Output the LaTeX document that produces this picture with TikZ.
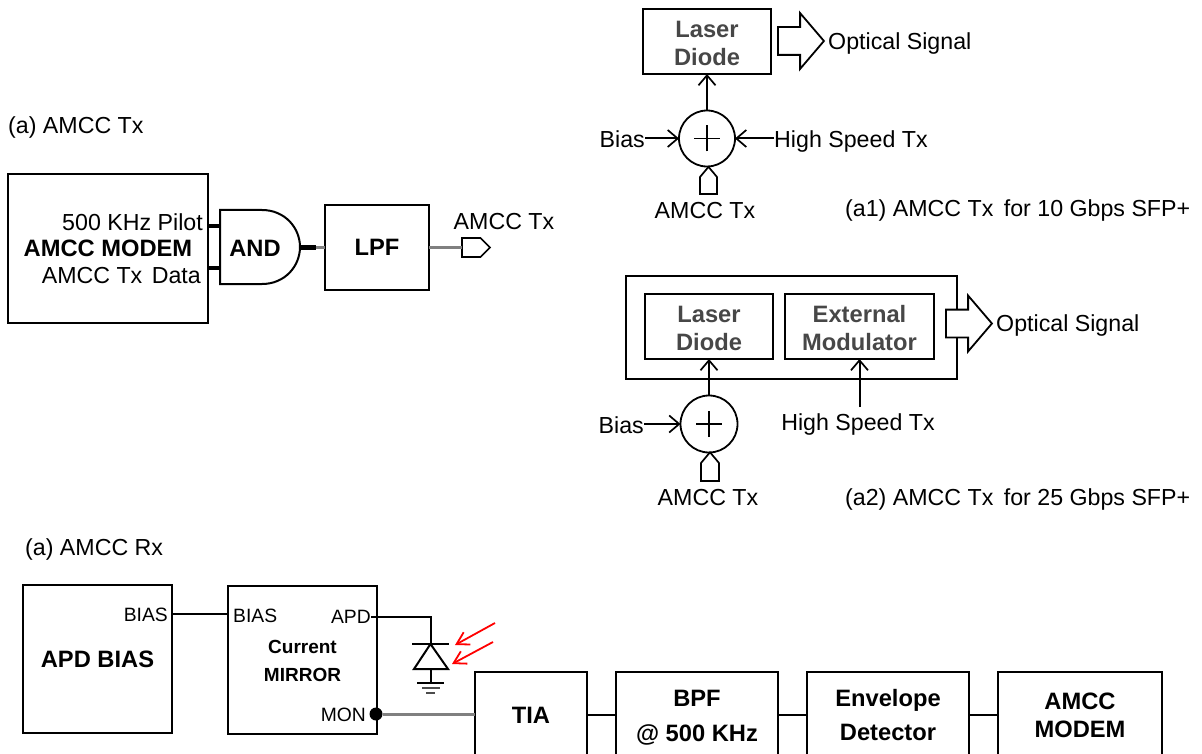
\documentclass[tikz,border=0pt]{standalone}
\usepackage{fontspec}
\setmainfont{Liberation Sans}
\usetikzlibrary{arrows.meta, shapes.arrows, shapes.symbols}
\newcommand{\toplift}[1]{\rule{0pt}{#1}}
\tikzset{
  lbl/.style={inner sep=0pt, font=\fontsize{23.2}{28}\selectfont, text height=16.6pt, text depth=0pt},
  smalllbl/.style={inner sep=0pt, font=\fontsize{19.3}{28}\selectfont, text height=13.8pt, text depth=0pt},
  boldlbl/.style={inner sep=0pt, font=\fontsize{23.7}{28}\selectfont\bfseries, align=center},
  blockbox/.style={draw, line width=2pt, outer sep=0pt, inner sep=0pt, align=center, font=\fontsize{23.7}{28}\selectfont\bfseries},
  laserbox/.style={blockbox, text=black!72},
  sumnode/.style={circle, draw, line width=1.8pt, minimum size=#1, inner sep=0pt, outer sep=0pt,
    path picture={\draw[line width=1.3pt] (path picture bounding box.center) +(-13pt,0) -- +(13pt,0)
      (path picture bounding box.center) +(0,-13pt) -- +(0,13pt);}},
  opticarrow/.style={single arrow, draw, fill=white, line width=1.8pt, inner sep=0pt, outer sep=0pt,
    minimum height=46pt, single arrow head extend=14pt, single arrow tip angle=99},
  sigtag/.style={signal, draw, fill=white, line width=1.7pt, inner sep=0pt, outer sep=0pt, signal to=#1},
  wire/.style={line width=2pt},
  arrowwire/.style={wire, -{Straight Barb[length=10pt, width=17pt, line width=1.7pt]}},
  greywire/.style={line width=3pt, black!50},
  pinwire/.style={line width=4.5pt},
  redarrow/.style={red, line width=1.8pt, -{Straight Barb[length=12pt, width=14pt, line width=1.8pt]}}
}
\begin{document}
\begin{tikzpicture}[x=1pt, y=-1pt]
\useasboundingbox (0,0) rectangle (1202,754);
\clip (0,0) rectangle (1202,754);

\node[lbl, anchor=west] (txtitle) at (8,125) {(a) AMCC Tx};
\node[blockbox, minimum width=200pt, minimum height=148pt] (modem) at (108,248.5) {AMCC MODEM};
\node[lbl, anchor=east] (pilot) at (203,222) {500 KHz Pilot};
\node[lbl, anchor=east] (txdata) at (201,275) {AMCC Tx\hspace{3pt} Data};
\draw[wire] (220,210) -- (262,210) .. controls (285,210) and (300,228) .. (300,247) .. controls (300,266) and (285,284) .. (262,284) -- (220,284) -- cycle;
\node[boldlbl] (andgate) at (255,248) {AND};
\coordinate (andin1) at (220,226);
\coordinate (andin2) at (220,268);
\coordinate (andout) at (300,247.5);
\coordinate (andstub) at (316,247.5);
\node[blockbox, minimum width=104pt, minimum height=85pt] (lpf) at (377,247.5) {LPF};
\node[sigtag=east, minimum width=28pt, minimum height=19pt, anchor=west] (txtag) at (462,247.5) {};
\node[lbl] (txtaglbl) at (504,221) {AMCC Tx};
\draw[pinwire] (modem.east |- andin1) -- (andin1);
\draw[pinwire] (modem.east |- andin2) -- (andin2);
\draw[greywire] (andstub) -- (lpf.west);
\draw[pinwire] (andout) -- (andstub);
\draw[greywire] (lpf.east) -- (txtag.west);

\node[laserbox, minimum width=128pt, minimum height=65pt] (laserA) at (707,41.5) {\toplift{21pt}Laser\\Diode};
\node[opticarrow] (opticA) at (795,41) {\rule{0pt}{26pt}};
\node[lbl, anchor=west] (opticAlbl) at (828,41) {Optical Signal};
\node[sumnode=56pt] (sumA) at (707,138.5) {};
\node[lbl, anchor=east] (biasA) at (645,139) {Bias};
\node[lbl, anchor=west] (highA) at (774,139) {High Speed Tx};
\node[sigtag=north, minimum width=17pt, minimum height=17pt, signal pointer angle=80, anchor=south] (tagA) at (708.5,194) {};
\node[lbl] (tagAlbl) at (705,210) {AMCC Tx};
\node[lbl, anchor=west] (captionA) at (845,208) {(a1) AMCC Tx\hspace{4pt} for 10 Gbps SFP+};
\draw[arrowwire] (sumA.north) -- (laserA.south);
\draw[arrowwire] (biasA.east |- sumA.west) -- (sumA.west);
\draw[arrowwire] (highA.west |- sumA.east) -- (sumA.east);

\node[draw, line width=2pt, minimum width=331pt, minimum height=103pt, inner sep=0pt, outer sep=0pt] (pack) at (791.5,327.5) {};
\node[laserbox, minimum width=128pt, minimum height=65pt] (laserB) at (709,326.5) {\toplift{21pt}Laser\\Diode};
\node[laserbox, minimum width=149pt, minimum height=65pt] (extmod) at (859.5,326.5) {\toplift{21pt}External\\Modulator};
\node[opticarrow] (opticB) at (963,323.5) {\rule{0pt}{26pt}};
\node[lbl, anchor=west] (opticBlbl) at (996,323.5) {Optical Signal};
\node[sumnode=57pt] (sumB) at (709,424) {};
\node[lbl, anchor=east] (biasB) at (644,425) {Bias};
\node[lbl] (highB) at (858,422) {High Speed Tx};
\node[sigtag=north, minimum width=18pt, minimum height=18pt, signal pointer angle=80, anchor=south] (tagB) at (710,481) {};
\node[lbl] (tagBlbl) at (708,497) {AMCC Tx};
\node[lbl, anchor=west] (captionB) at (845,497) {(a2) AMCC Tx\hspace{4pt} for 25 Gbps SFP+};
\draw[arrowwire] (sumB.north) -- (laserB.south);
\draw[arrowwire] (biasB.east |- sumB.west) -- (sumB.west);
\draw[arrowwire] (extmod.south |- 0,407) -- (extmod.south);

\node[lbl, anchor=west] (rxtitle) at (25,547) {(a) AMCC Rx};
\node[blockbox, minimum width=149pt, minimum height=148pt] (apdbias) at (97.5,659) {APD BIAS};
\node[blockbox, minimum width=149pt, minimum height=148pt, font=\fontsize{19}{28}\selectfont\bfseries] (mirror) at (302.5,659.5) {\toplift{16pt}Current\\MIRROR};
\node[smalllbl, anchor=east] (biasout) at (168,615) {BIAS};
\node[smalllbl, anchor=west] (biasin) at (233,616) {BIAS};
\node[smalllbl, anchor=east] (apdpin) at (371,617) {APD};
\node[smalllbl, anchor=east] (monpin) at (366,715) {MON};
\node[circle, fill, inner sep=0pt, minimum size=13pt] (mondot) at (376,714) {};
\node[blockbox, minimum width=112pt, minimum height=86pt] (tia) at (531,715) {TIA};
\node[blockbox, minimum width=162pt, minimum height=86pt] (bpf) at (697,715) {\toplift{21pt}BPF\\[7pt]@ 500 KHz};
\node[blockbox, minimum width=162pt, minimum height=86pt] (envdet) at (888,715) {Envelope\\[6pt]Detector};
\node[blockbox, minimum width=164pt, minimum height=86pt] (rxmodem) at (1080,715) {AMCC\\MODEM};
\draw[wire] (apdbias.east |- 0,614) -- (mirror.west |- 0,614);
\draw[greywire] (mondot) -- (tia.west |- mondot);
\foreach \from/\to in {tia/bpf, bpf/envdet, envdet/rxmodem}
  \draw[wire] (\from.east) -- (\to.west);

\coordinate (pdtop) at (430.5,644);
\coordinate (pdbot) at (430.5,669);
\coordinate (gnd) at (430.5,683);
\draw[wire] (apdpin.east) -- ++(2,0) -| (pdtop);
\draw[line width=2.2pt] (412,644) -- (449,644);
\draw[wire, line join=miter] (pdtop) -- (448,669) -- (414,669) -- cycle;
\draw[wire] (pdbot) -- (gnd);
\draw[wire] (417,683) -- (444,683);
\draw[wire, black!70] (422,688) -- (440,688);
\draw[wire, black!70] (426,692.5) -- (435,692.5);
\draw[redarrow] (495,623) -- (455,645);
\draw[redarrow] (493,642) -- (452,664);
\end{tikzpicture}
\end{document}
